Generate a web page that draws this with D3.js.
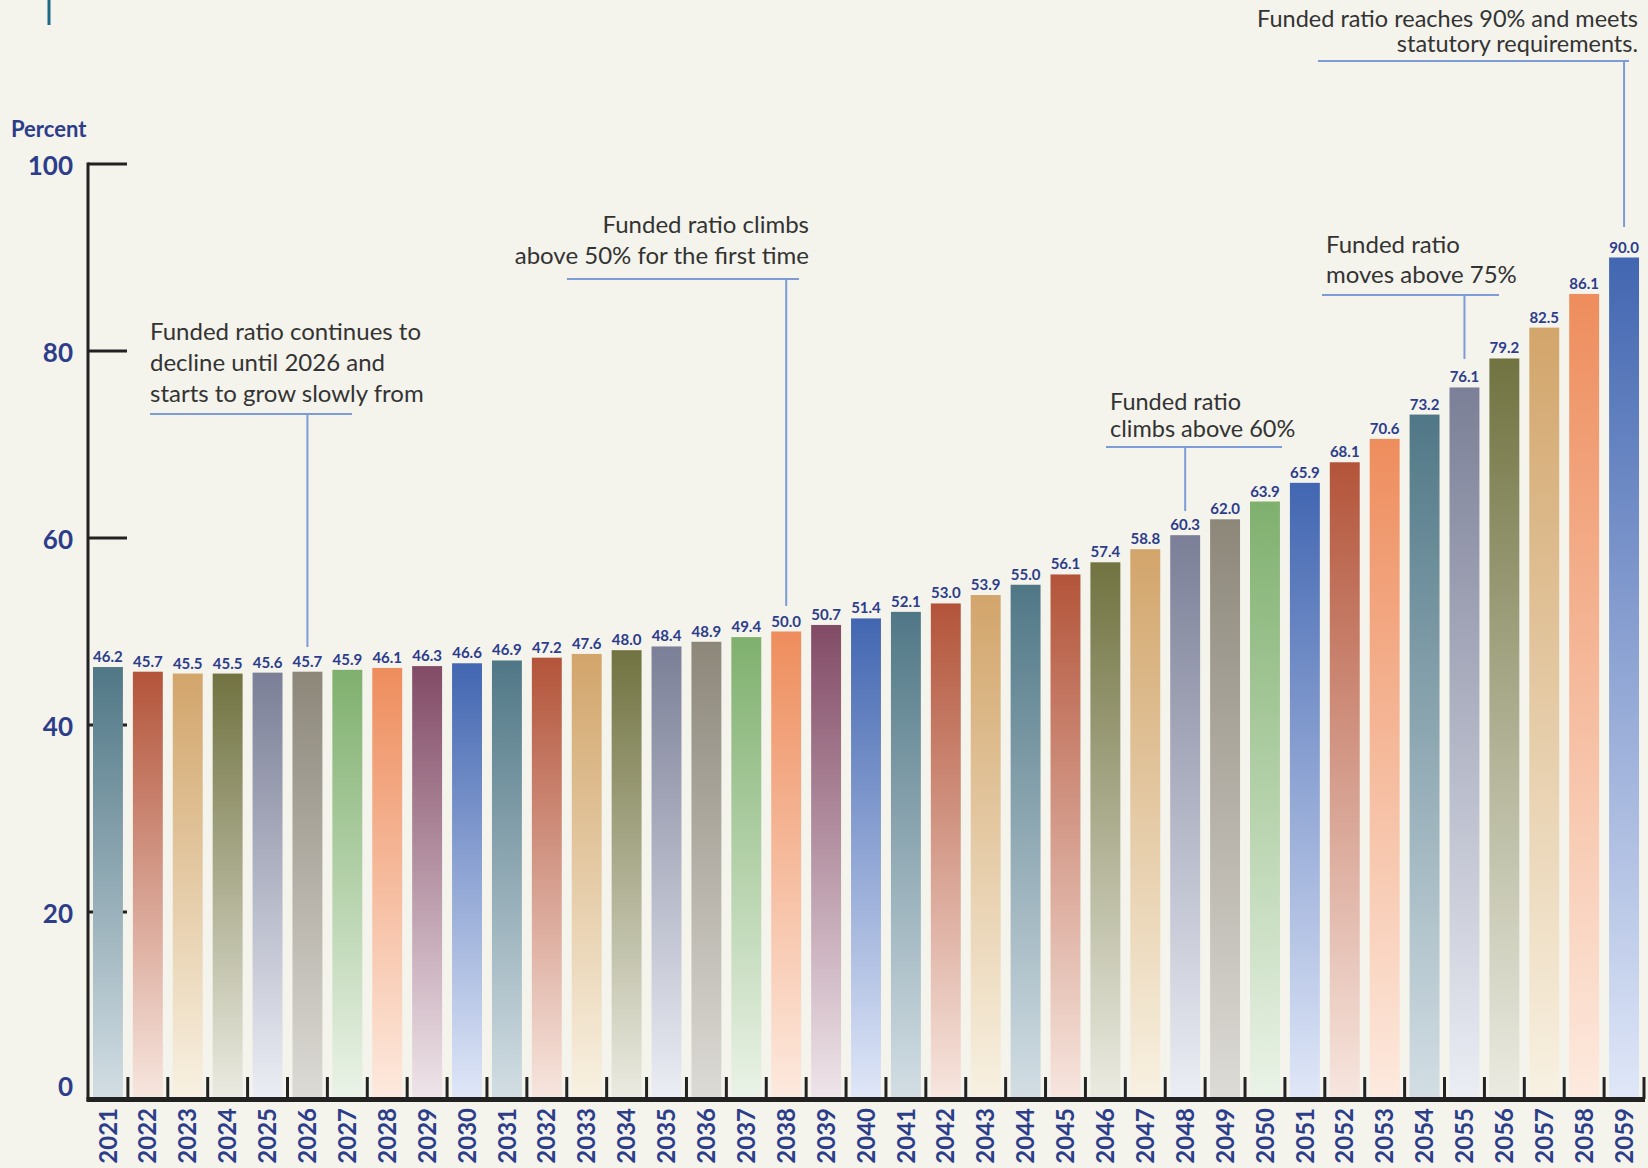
<!DOCTYPE html>
<html>
<head>
<meta charset="utf-8">
<script src="https://cdn.jsdelivr.net/npm/d3@7"></script>
<style>
  html, body { margin: 0; padding: 0; background: #f4f3ec; }
  svg { display: block; }
</style>
</head>
<body>
<svg id="chart" width="1648" height="1168"></svg>
<script>
// Funded ratio projection, 2021–2059 (percent)
const years = d3.range(2021, 2060).map(String);
const fundedRatio = [
  46.2, 45.7, 45.5, 45.5, 45.6, 45.7, 45.9, 46.1, 46.3, 46.6,
  46.9, 47.2, 47.6, 48.0, 48.4, 48.9, 49.4, 50.0, 50.7, 51.4,
  52.1, 53.0, 53.9, 55.0, 56.1, 57.4, 58.8, 60.3, 62.0, 63.9,
  65.9, 68.1, 70.6, 73.2, 76.1, 79.2, 82.5, 86.1, 90.0
];
const yTicks = [0, 20, 40, 60, 80, 100];

// Callouts: year the leader points at, text lines
const calloutYears = ["2026", "2038", "2048", "2055", "2059"];
const calloutTexts = [
  ["Funded ratio continues to", "decline until 2026 and", "starts to grow slowly from"],
  ["Funded ratio climbs", "above 50% for the first time"],
  ["Funded ratio", "climbs above 60%"],
  ["Funded ratio", "moves above 75%"],
  ["Funded ratio reaches 90% and meets", "statutory requirements."]
];

// Palette: [top colour, pale bottom colour]
const palette = {
  teal:   ["#507786", "#d3dee4"],
  rust:   ["#b3543a", "#f7e6df"],
  tan:    ["#d2a56b", "#f8f1e2"],
  olive:  ["#717341", "#ebebe2"],
  slate:  ["#7b7f97", "#eceef5"],
  taupe:  ["#8d877a", "#dddbd6"],
  green:  ["#7fb06e", "#ebf3e8"],
  orange: ["#ee8d5d", "#fdeadf"],
  plum:   ["#824b66", "#efe5ea"],
  blue:   ["#4266b1", "#e0e7f8"]
};
const barColorKeys = [
  "teal","rust","tan","olive","slate","taupe","green","orange","plum","blue",
  "teal","rust","tan","olive","slate","taupe","green","orange","plum","blue",
  "teal","rust","tan","teal","rust","olive","tan","slate","taupe","green",
  "blue","rust","orange","teal","slate","olive","tan","orange","blue"
];

const svg = d3.select("#chart");
const navy = "#2c3d8a";
const ink = "#222";
const leader = "#7d9bd6";
const fontFam = "Lato, 'Open Sans', sans-serif";

const x = d3.scaleBand().domain(years).range([88, 1644]).paddingInner(0.25).paddingOuter(0.125);
const y = d3.scaleLinear().domain([0, 100]).range([1099, 164]);

// Decorative rule at the top-left
svg.append("line").attr("x1", 49).attr("x2", 49).attr("y1", 0).attr("y2", 25)
  .attr("stroke", "#1d6a86").attr("stroke-width", 3);

// Gradients, one per bar
const defs = svg.append("defs");
years.forEach((yr, i) => {
  const [c0, c1] = palette[barColorKeys[i]];
  const g = defs.append("linearGradient").attr("id", "g" + yr)
    .attr("x1", 0).attr("y1", 0).attr("x2", 0).attr("y2", 1);
  g.append("stop").attr("offset", "0%").attr("stop-color", c0);
  g.append("stop").attr("offset", "100%").attr("stop-color", c1);
});

// Y-axis tick marks (drawn behind the bars)
svg.append("g").selectAll("line").data(yTicks.filter(t => t > 0)).join("line")
  .attr("x1", 88).attr("x2", 127)
  .attr("y1", d => y(d)).attr("y2", d => y(d))
  .attr("stroke", ink).attr("stroke-width", 3);

// Bars
const bw = x.bandwidth();
svg.append("g").selectAll("rect").data(years).join("rect")
  .attr("x", d => x(d))
  .attr("y", (d, i) => y(fundedRatio[i]))
  .attr("width", bw)
  .attr("height", (d, i) => y(0) - y(fundedRatio[i]))
  .attr("fill", d => `url(#g${d})`);

// Value labels
svg.append("g").selectAll("text").data(years).join("text")
  .attr("x", d => x(d) + bw / 2)
  .attr("y", (d, i) => y(fundedRatio[i]) - 5)
  .attr("text-anchor", "middle")
  .attr("font-family", fontFam).attr("font-weight", 700).attr("font-size", 15)
  .attr("fill", navy)
  .text((d, i) => fundedRatio[i].toFixed(1));

// Left axis line
svg.append("line").attr("x1", 88).attr("x2", 88).attr("y1", y(100) - 1.5).attr("y2", y(0) + 2)
  .attr("stroke", ink).attr("stroke-width", 3);

// Y tick labels through d3 axis
const yAxis = svg.append("g").attr("transform", "translate(73,0)")
  .call(d3.axisLeft(y).tickValues(yTicks).tickSize(0).tickPadding(0));
yAxis.select(".domain").remove();
yAxis.selectAll("text")
  .attr("font-family", fontFam).attr("font-weight", 700).attr("font-size", 26)
  .attr("fill", navy)
  .attr("dy", d => d === 0 ? "-0.12em" : "0.42em");

svg.append("text").attr("x", 11).attr("y", 137)
  .attr("font-family", fontFam).attr("font-weight", 700).attr("font-size", 22)
  .attr("fill", navy).text("Percent");

// Bottom axis: thick base line, ticks between bars
const step = x.step();
const boundaries = years.map(d => x(d) + bw + (step - bw) / 2);
svg.append("g").selectAll("line").data(boundaries).join("line")
  .attr("x1", d => d).attr("x2", d => d)
  .attr("y1", y(0) - 22).attr("y2", y(0))
  .attr("stroke", ink).attr("stroke-width", 3);
svg.append("line").attr("x1", 86.5).attr("x2", 1645).attr("y1", y(0) + 0.5).attr("y2", y(0) + 0.5)
  .attr("stroke", ink).attr("stroke-width", 5);

// Year labels, rotated
svg.append("g").selectAll("text").data(years).join("text")
  .attr("transform", d => `translate(${x(d) + bw / 2},1108) rotate(-90)`)
  .attr("text-anchor", "end").attr("dy", "0.36em")
  .attr("font-family", fontFam).attr("font-weight", 700).attr("font-size", 24)
  .attr("fill", navy)
  .text(d => d);

// Callouts
const calloutLayout = [
  { tx: 150, ty: 340, lh: 31, fs: 24,   anchor: "start", ux1: 150, ux2: 352, uy: 414, end: 647 },
  { tx: 809, ty: 233, lh: 31, fs: 24,   anchor: "end",   ux1: 567, ux2: 799, uy: 279, end: 606 },
  { tx: 1110, ty: 410, lh: 27, fs: 23.5, anchor: "start", ux1: 1106, ux2: 1282, uy: 447, end: 511 },
  { tx: 1326, ty: 253, lh: 30, fs: 24,   anchor: "start", ux1: 1322, ux2: 1499, uy: 295, end: 359 },
  { tx: 1638, ty: 27, lh: 25, fs: 23.5, anchor: "end",   ux1: 1318, ux2: 1629, uy: 61, end: 227 }
];
const cg = svg.append("g");
calloutYears.forEach((yr, k) => {
  const L = calloutLayout[k];
  const cx = x(yr) + bw / 2;
  cg.append("line").attr("x1", L.ux1).attr("x2", L.ux2).attr("y1", L.uy).attr("y2", L.uy)
    .attr("stroke", leader).attr("stroke-width", 2);
  cg.append("line").attr("x1", cx).attr("x2", cx).attr("y1", L.uy).attr("y2", L.end)
    .attr("stroke", leader).attr("stroke-width", 2);
  const t = cg.append("text").attr("text-anchor", L.anchor)
    .attr("font-family", fontFam).attr("font-size", L.fs).attr("fill", "#333");
  calloutTexts[k].forEach((line, j) => {
    t.append("tspan").attr("x", L.tx).attr("y", L.ty + j * L.lh).text(line);
  });
});
</script>
</body>
</html>
